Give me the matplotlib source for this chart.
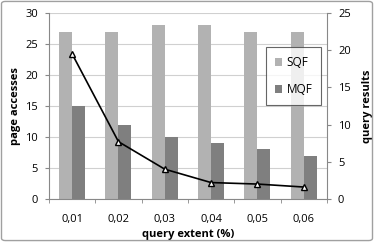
import matplotlib.pyplot as plt
import numpy as np
from matplotlib.patches import FancyBboxPatch

plt.rcParams['font.family'] = ['Open Sans', 'DejaVu Sans']

# data
categories = ['0,01', '0,02', '0,03', '0,04', '0,05', '0,06']
sqf = [27, 27, 28, 28, 27, 27]
mqf = [15, 12, 10, 9, 8, 7]
results = [19.5, 7.7, 4.0, 2.2, 2.0, 1.6]

fig = plt.figure(figsize=(3.74, 2.42), dpi=100)
ax = fig.add_axes([0.131, 0.178, 0.743, 0.768])

x = np.arange(len(categories))
w = 0.28
ax.bar(x - w / 2, sqf, w, color='#b2b2b2', label='SQF', zorder=2)
ax.bar(x + w / 2, mqf, w, color='#7f7f7f', label='MQF', zorder=2)

ax.set_xlim(-0.5, 5.5)
ax.set_ylim(0, 30)
ax.set_yticks(range(0, 31, 5))
ax.set_xticks(x)
ax.set_xticklabels(categories)
ax.set_xticks(np.arange(-0.5, 6, 1), minor=True)
ax.tick_params(axis='x', which='major', length=0, pad=11, labelsize=8)
ax.tick_params(axis='x', which='minor', length=3, color='#888888')
ax.tick_params(axis='y', length=3, color='#888888', labelsize=8, pad=5)
ax.yaxis.grid(True, color='#d0d0d0', linewidth=0.8, zorder=0)
for s in ['top', 'right']:
    ax.spines[s].set_visible(False)
for s in ['left', 'bottom']:
    ax.spines[s].set_color('#888888')
    ax.spines[s].set_linewidth(0.8)
ax.set_xlabel('query extent (%)', fontweight='bold', fontsize=8, labelpad=3)
ax.set_ylabel('page accesses', fontweight='bold', fontsize=8, labelpad=3)

ax2 = ax.twinx()
ax2.plot(x, results, color='black', marker='^', markersize=5,
         markerfacecolor='white', markeredgecolor='black', linewidth=1.2, zorder=3)
ax2.set_ylim(0, 25)
ax2.set_yticks(range(0, 26, 5))
ax2.tick_params(axis='y', length=3, color='#888888', labelsize=8, pad=5)
for s in ['top', 'left', 'bottom']:
    ax2.spines[s].set_visible(False)
ax2.spines['right'].set_color('#888888')
ax2.spines['right'].set_linewidth(0.8)
ax2.set_ylabel('query results', fontweight='bold', fontsize=8, labelpad=8)

leg = ax2.legend(*ax.get_legend_handles_labels(), loc='upper left',
                 bbox_to_anchor=(0.781, 0.817), borderaxespad=0,
                 frameon=True, fancybox=False,
                 fontsize=8.5, handlelength=0.6, handleheight=0.6,
                 labelspacing=1.2, borderpad=0.75, handletextpad=0.4)
leg.get_frame().set_edgecolor('#404040')
leg.get_frame().set_linewidth(0.8)

fig.patches.append(FancyBboxPatch((0.004, 0.006), 0.992, 0.988,
                                  boxstyle='round,pad=0,rounding_size=0.01',
                                  transform=fig.transFigure, fill=False,
                                  edgecolor='#a0a0a0', linewidth=1))

fig.savefig('out.png', dpi=100)
